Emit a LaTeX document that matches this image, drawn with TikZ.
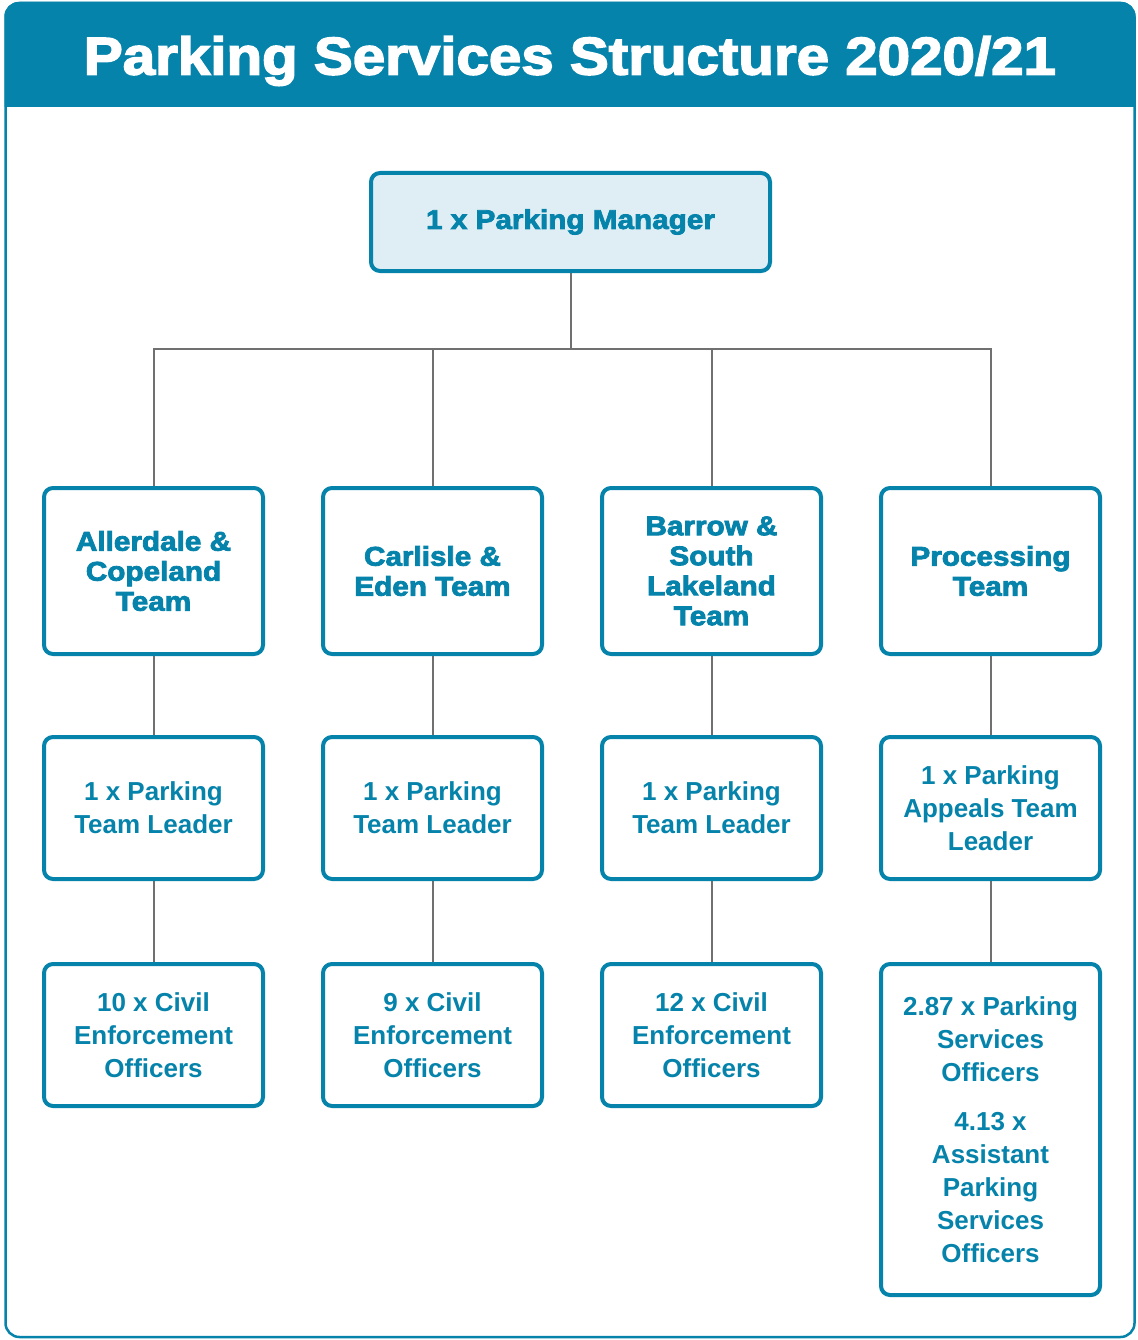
\documentclass[tikz,border=0pt]{standalone}
\usepackage{fontspec}
\setmainfont{Liberation Sans}
\newfontfamily\heavyfont{Liberation Sans}[BoldFeatures={FakeBold=3,FakeStretch=1.1}]
\usetikzlibrary{backgrounds}
\definecolor{teal0}{HTML}{0583AB}
\definecolor{lightfill}{HTML}{DFEEF5}
\definecolor{connc}{HTML}{707070}
\tikzset{
  box/.style={draw=teal0, line width=4pt, rounded corners=9pt, fill=white, text=teal0,
    align=center, inner sep=0pt, minimum width=219pt},
  teambox/.style={box, minimum height=166pt, font=\heavyfont\bfseries\fontsize{27}{30}\selectfont},
  rolebox/.style={box, minimum height=142pt, font=\bfseries\fontsize{26}{33}\selectfont},
  conn/.style={draw=connc, line width=2pt},
}
\begin{document}
\begin{tikzpicture}[x=1pt,y=-1pt]
\useasboundingbox (0,0) rectangle (1137,1340);
% frame and header
\begin{scope}
  \clip[rounded corners=14pt] (4.5,2) rectangle (1135.5,1338);
  \fill[teal0] (0,0) rectangle (1137,107);
\end{scope}
\draw[teal0, line width=2.5pt, rounded corners=14pt] (5.5,3) rectangle (1134.5,1337);
\node[anchor=base, text=white, inner sep=0pt, font=\heavyfont\bfseries\fontsize{53}{60}\selectfont] (title) at (570,74.5) {Parking Services Structure 2020/21};

% manager
\node[box, fill=lightfill, minimum width=399pt, minimum height=98pt,
  font=\heavyfont\bfseries\fontsize{27}{30}\selectfont] (mgr) at (570.5,222) {1 x Parking Manager};

% teams
\node[teambox] (t1) at (153.5,571) {Allerdale \&\\Copeland\\Team};
\node[teambox] (t2) at (432.5,571) {Carlisle \&\\Eden Team};
\node[teambox] (t3) at (711.5,571) {Barrow \&\\South\\Lakeland\\Team};
\node[teambox] (t4) at (990.5,571) {Processing\\Team};

% leaders
\node[rolebox] (l1) at (153.5,808) {1 x Parking\\Team Leader};
\node[rolebox] (l2) at (432.5,808) {1 x Parking\\Team Leader};
\node[rolebox] (l3) at (711.5,808) {1 x Parking\\Team Leader};
\node[rolebox] (l4) at (990.5,808) {1 x Parking\\Appeals Team\\Leader};

% officers
\node[rolebox] (o1) at (153.5,1035) {10 x Civil\\Enforcement\\Officers};
\node[rolebox] (o2) at (432.5,1035) {9 x Civil\\Enforcement\\Officers};
\node[rolebox] (o3) at (711.5,1035) {12 x Civil\\Enforcement\\Officers};
\node[rolebox, minimum height=331pt] (o4) at (990.5,1129.5) {2.87 x Parking\\Services\\Officers\\[16pt]4.13 x\\Assistant\\Parking\\Services\\Officers};

\coordinate (bus) at (570.5,349);
\begin{scope}[on background layer]
  \draw[conn] (mgr.south) -- (bus);
  \foreach \t in {t1,t2,t3,t4} \draw[conn] (bus) -| (\t.north);
  \foreach \i in {1,2,3,4} {
    \draw[conn] (t\i.south) -- (l\i.north);
    \draw[conn] (l\i.south) -- (o\i.north);
  }
\end{scope}
\end{tikzpicture}
\end{document}
